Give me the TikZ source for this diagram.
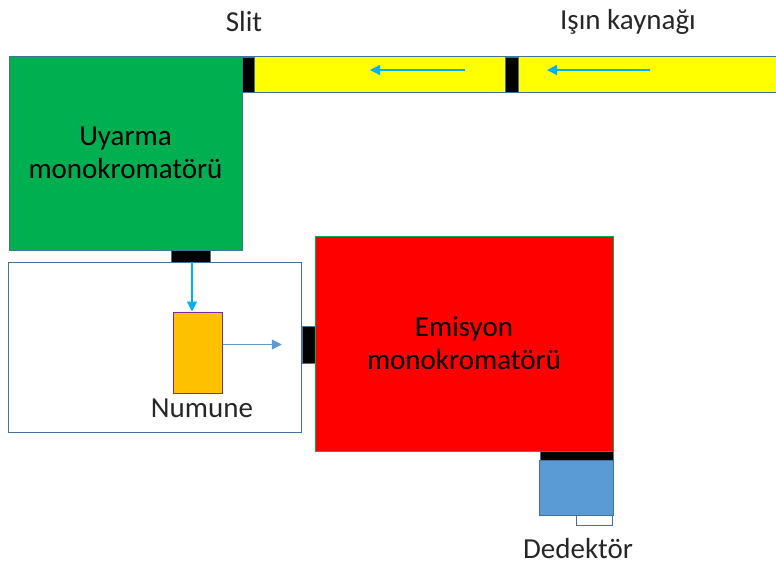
\documentclass[tikz,border=0pt]{standalone}
\usepackage{fontspec}
\setmainfont{Carlito}
\usetikzlibrary{positioning,arrows.meta}
\definecolor{boxline}{RGB}{65,113,156}
\definecolor{exgreen}{RGB}{0,176,80}
\definecolor{srcyellow}{RGB}{255,255,0}
\definecolor{sampleorange}{RGB}{255,192,0}
\definecolor{samplepurple}{RGB}{112,48,160}
\definecolor{beamblue}{RGB}{0,176,240}
\definecolor{emblue}{RGB}{91,155,213}
\definecolor{detblue}{RGB}{91,155,213}
\definecolor{textgray}{RGB}{38,38,38}

\begin{document}
\begin{tikzpicture}[
  x=1pt, y=-1pt,
  font=\fontsize{29}{33}\selectfont, text=textgray,
  part/.style={rectangle, draw=boxline, line width=0.8pt, inner sep=0pt, align=center},
  slitbar/.style={rectangle, fill=black, draw=boxline, line width=0.5pt, inner sep=0pt},
  beam/.style={-{Triangle[length=10pt,width=10pt]}, draw=beamblue, line width=1.3pt}
]
\useasboundingbox (0,0) rectangle (776,574);

% excitation side
\node[part, fill=exgreen, text=black, minimum width=233pt, minimum height=194pt] (uyarma) at (125.5,153) {Uyarma\\monokromatörü};
\node[part, fill=srcyellow, minimum width=540pt, minimum height=36pt, anchor=west] (kaynak) at (242,74) {};
\node[slitbar, minimum width=12pt, minimum height=35pt] (slit) at (248,74.5) {};
\node[slitbar, minimum width=13pt, minimum height=35pt] (srcslit) at (511.5,74.5) {};
\node[slitbar, minimum width=39pt, minimum height=12pt] (exslit) at (190.5,256) {};

% sample chamber
\node[part, minimum width=293pt, minimum height=170pt] (chamber) at (154.5,347) {};
\node[rectangle, fill=sampleorange, draw=samplepurple, line width=1pt, minimum width=49pt, minimum height=81pt] (numune) at (197.5,352.5) {};
\node[slitbar, minimum width=13pt, minimum height=37pt] (emslit) at (308.5,344.5) {};

% emission side
\node[part, draw=exgreen, fill=red, text=black, minimum width=298pt, minimum height=215pt] (emisyon) at (464,343.5) {Emisyon\\monokromatörü};
\node[slitbar, minimum width=73pt, minimum height=9pt] (detslit) at (576.5,455.5) {};
\node[part, fill=detblue, minimum width=74pt, minimum height=55pt] (dedektor) at (576,487.5) {};
\node[part, fill=white, minimum width=36pt, minimum height=10pt] (window) at (594,520) {};

% labels
\node (slitlbl) at (244,22) {Slit};
\node (kaynaklbl) at (628,22) {Işın kaynağı};
\node (numunelbl) at (202,408) {Numune};
\node (dedektorlbl) at (578,549) {Dedektör};

% beam path
\coordinate (b1s) at (650,70);
\coordinate (b1e) at (547,70);
\coordinate (b2s) at (465,70);
\coordinate (b2e) at (370,70);
\draw[beam] (b1s) -- (b1e);
\draw[beam] (b2s) -- (b2e);
\draw[beam] ([xshift=1.5pt]exslit.south) -- ([xshift=1.5pt]exslit.south |- numune.north);
\draw[beam, draw=emblue] (numune.east |- emslit.west) -- ([xshift=-20pt]emslit.west);
\end{tikzpicture}
\end{document}
